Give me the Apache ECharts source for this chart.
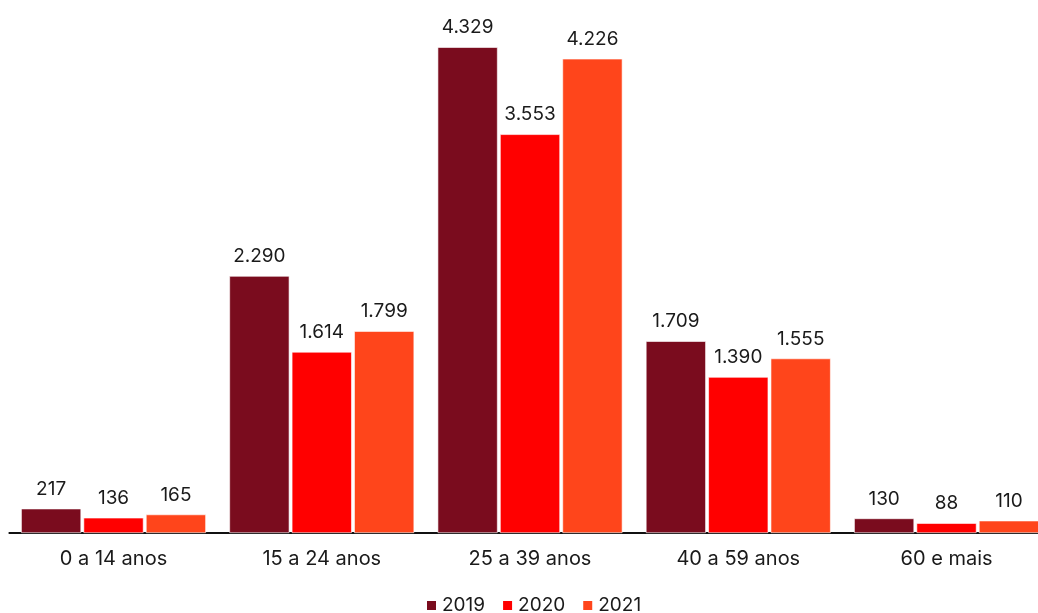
<!DOCTYPE html>
<html>
<head>
<meta charset="utf-8">
<script src="https://cdn.jsdelivr.net/npm/echarts@6/dist/echarts.min.js"></script>
<style>
  html, body { margin: 0; padding: 0; background: #ffffff; }
  #chart { width: 1038px; height: 613px; }
</style>
</head>
<body>
<div id="chart"></div>
<script>
// Faixas etárias e valores por ano
const categories = ['0 a 14 anos', '15 a 24 anos', '25 a 39 anos', '40 a 59 anos', '60 e mais'];
const years = ['2019', '2020', '2021'];
const values2019 = [217, 2290, 4329, 1709, 130];
const values2020 = [136, 1614, 3553, 1390, 88];
const values2021 = [165, 1799, 4226, 1555, 110];
const colors = ['#7A0C1E', '#FF0000', '#FF451B'];

const fmt = v => v.toLocaleString('pt-BR');

const chart = echarts.init(document.getElementById('chart'));
const seriesData = [values2019, values2020, values2021];

chart.setOption({
  animation: false,
  textStyle: { fontFamily: 'Inter' },
  // the plot runs a little past the right edge of the canvas
  grid: { left: 9.4, width: 1041.25, top: 28, bottom: 80, outerBoundsMode: 'none', containLabel: false },
  legend: {
    data: years,
    left: 425,
    bottom: -2,
    padding: 0,
    itemWidth: 11,
    itemHeight: 11,
    itemGap: 16,
    icon: 'rect',
    textStyle: { fontFamily: 'Inter', fontSize: 19, color: '#1a1a1a' }
  },
  xAxis: {
    type: 'category',
    data: categories,
    axisLine: { lineStyle: { color: '#111', width: 2 } },
    axisTick: { show: false },
    axisLabel: { fontFamily: 'Inter', fontSize: 20, color: '#1a1a1a', margin: 16 }
  },
  yAxis: {
    type: 'value',
    min: 0,
    max: 4500,
    show: false,
    splitLine: { show: false }
  },
  series: years.map((y, i) => ({
    name: y,
    type: 'bar',
    data: seriesData[i],
    barWidth: 60,
    barGap: '4%',
    itemStyle: { color: colors[i], borderColor: '#ffffff', borderWidth: 0.6 },
    label: {
      show: true,
      position: 'top',
      distance: 10,
      fontFamily: 'Inter',
      fontSize: 19,
      color: '#1a1a1a',
      formatter: p => fmt(p.value)
    }
  }))
});
</script>
</body>
</html>
